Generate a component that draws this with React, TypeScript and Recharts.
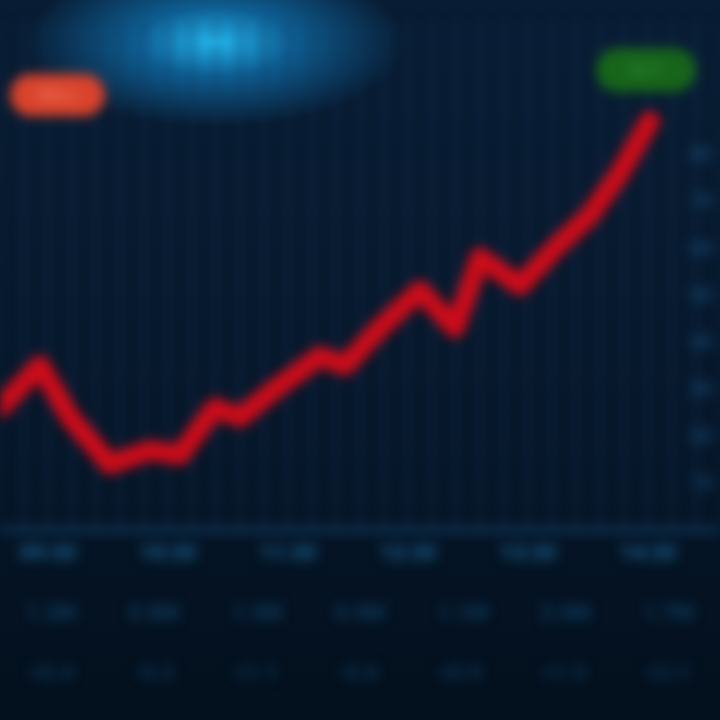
import { LineChart, Line, XAxis, YAxis, CartesianGrid } from 'recharts';

const xs = [0, 40, 70, 110, 150, 180, 215, 240, 275, 320, 345, 380, 420, 455, 480, 520, 555, 590, 620, 650];
const prices = [26, 35, 24, 14, 17, 16, 26, 24, 30, 37, 35, 43, 51, 43, 58, 52, 60, 67, 76, 87];
const priceTicks = [10, 20, 30, 40, 50, 60, 70, 80];
const gridTicks = [0, 24, 48, 72, 96, 120, 144, 168, 192, 216, 240, 264, 288, 312, 336, 360, 384, 408, 432, 456, 480, 504, 528, 552, 576, 600, 624, 648, 672, 696, 720];
const timeLabels: Record<number, string> = { 48: '09:30', 168: '10:30', 288: '11:30', 408: '12:30', 528: '13:30', 648: '14:30' };
const volumeRow1 = ['1.2M', '0.8M', '1.5M', '0.9M', '1.1M', '2.0M', '1.7M'];
const volumeRow2 = ['+0.4', '-0.2', '+1.1', '-0.6', '+0.9', '+1.3', '+2.1'];

const chartData = xs.map((x, i) => ({ x, price: prices[i] }));

export default function App() {
  return (
    <div
      style={{
        position: 'fixed',
        left: 0,
        top: 0,
        width: 720,
        height: 720,
        overflow: 'hidden',
        background:
          'radial-gradient(ellipse 190px 85px at 215px 42px, #22b8f0 0%, #0e5f94 40%, rgba(6,20,38,0) 100%), linear-gradient(#081c33, #061629 60%, #03101d)',
        fontFamily: 'Roboto, sans-serif',
      }}
    >
      <div style={{ filter: 'blur(6px)', position: 'absolute', left: 0, top: 0, width: 720, height: 720 }}>
        <LineChart width={720} height={720} data={chartData} margin={{ top: 20, right: 0, bottom: 160, left: 0 }}>
          <CartesianGrid stroke="#15365a" strokeWidth={2} horizontal={false} />
          <XAxis
            dataKey="x"
            type="number"
            domain={[0, 720]}
            ticks={gridTicks}
            interval={0}
            tickFormatter={(v: number) => timeLabels[v] ?? ''}
            tick={{ fill: '#1a5f8c', fontSize: 22, fontWeight: 700 }}
            axisLine={{ stroke: '#11466e', strokeWidth: 4 }}
            tickLine={false}
            tickMargin={8}
          />
          <YAxis
            orientation="right"
            mirror
            domain={[0, 108.5]}
            ticks={priceTicks}
            tick={{ fill: '#134468', fontSize: 20, fontWeight: 700 }}
            axisLine={false}
            tickLine={false}
            width={70}
          />
          <Line
            type="linear"
            dataKey="price"
            stroke="#cc0c1a"
            strokeWidth={20}
            strokeLinejoin="round"
            strokeLinecap="round"
            dot={false}
            isAnimationActive={false}
          />
        </LineChart>
        <div style={{ position: 'absolute', left: 0, top: 600, width: 720, display: 'flex', justifyContent: 'space-around', color: '#0d3a5c', fontSize: 22, fontWeight: 700 }}>
          {volumeRow1.map((v) => (
            <span key={v}>{v}</span>
          ))}
        </div>
        <div style={{ position: 'absolute', left: 0, top: 660, width: 720, display: 'flex', justifyContent: 'space-around', color: '#0c3454', fontSize: 22, fontWeight: 700 }}>
          {volumeRow2.map((v) => (
            <span key={v}>{v}</span>
          ))}
        </div>
        <div
          style={{
            position: 'absolute',
            left: 10,
            top: 74,
            width: 95,
            height: 42,
            borderRadius: 21,
            background: '#d9432c',
            color: '#f08060',
            fontSize: 18,
            lineHeight: '42px',
            textAlign: 'center',
          }}
        >
          SELL
        </div>
        <div
          style={{
            position: 'absolute',
            left: 596,
            top: 48,
            width: 100,
            height: 44,
            borderRadius: 22,
            background: '#17641b',
            color: '#2e8c32',
            fontSize: 18,
            lineHeight: '44px',
            textAlign: 'center',
          }}
        >
          BUY
        </div>
      </div>
    </div>
  );
}
